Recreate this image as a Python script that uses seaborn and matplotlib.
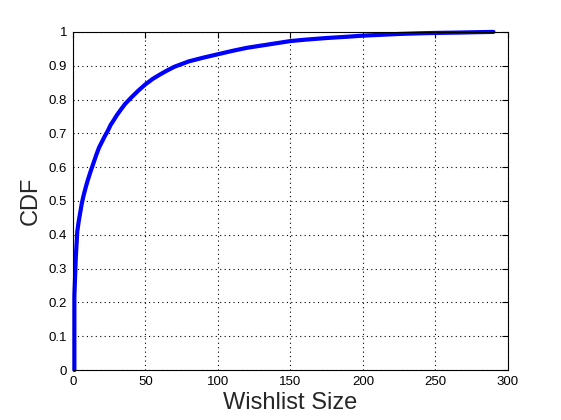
import matplotlib
matplotlib.use("Agg")
import matplotlib.pyplot as plt
import seaborn as sns
import pandas as pd

# CDF of wishlist sizes
wishlist_size = [1, 1, 2, 3, 4, 5, 6, 7, 8, 9, 10, 12, 14, 16, 18, 20, 22, 24, 26, 28, 30,
                 33, 36, 40, 45, 50, 55, 60, 65, 70, 75, 80, 90, 100, 110, 120, 135, 150,
                 160, 175, 190, 200, 215, 225, 240, 250, 265, 276, 290]
cdf = [0.0, 0.22, 0.335, 0.41, 0.44, 0.465, 0.49, 0.51, 0.527, 0.543, 0.558, 0.585, 0.61,
       0.635, 0.658, 0.675, 0.692, 0.707, 0.725, 0.738, 0.752, 0.77, 0.787, 0.805, 0.826,
       0.845, 0.861, 0.874, 0.886, 0.897, 0.905, 0.913, 0.924, 0.934, 0.944, 0.953, 0.963,
       0.973, 0.977, 0.982, 0.986, 0.989, 0.992, 0.994, 0.996, 0.997, 0.998, 0.999, 1.0]

x_ticks = [0, 50, 100, 150, 200, 250, 300]
y_ticks = [0, 0.1, 0.2, 0.3, 0.4, 0.5, 0.6, 0.7, 0.8, 0.9, 1]
y_tick_labels = ["0", "0.1", "0.2", "0.3", "0.4", "0.5", "0.6", "0.7", "0.8", "0.9", "1"]

df = pd.DataFrame({"size": wishlist_size, "cdf": cdf})

sns.set_style("white")
plt.rcParams["font.family"] = ["Liberation Sans", "DejaVu Sans"]

fig = plt.figure(figsize=(5.61, 4.2), dpi=100)
ax = fig.add_axes([0.13, 0.119, 0.7755, 0.805])

sns.lineplot(x="size", y="cdf", data=df, ax=ax, sort=False, estimator=None,
             color=(0, 0, 1), linewidth=3, clip_on=False)

ax.set_xlim(0, 300)
ax.set_ylim(0, 1)
ax.set_xticks(x_ticks)
ax.set_xticklabels([str(t) for t in x_ticks])
ax.set_yticks(y_ticks)
ax.set_yticklabels(y_tick_labels)

ax.grid(True, color="black", linestyle=(0, (1, 3)), linewidth=0.8)
ax.tick_params(direction="in", length=4, width=0.8, top=True, right=True,
               labelsize=9.5, colors="black", pad=4)
for side in ax.spines.values():
    side.set_color("black")
    side.set_linewidth(0.8)

ax.set_xlabel("Wishlist Size", fontsize=17, labelpad=3)
ax.set_ylabel("CDF", fontsize=17, labelpad=5)

fig.savefig("out.png", dpi=100)
